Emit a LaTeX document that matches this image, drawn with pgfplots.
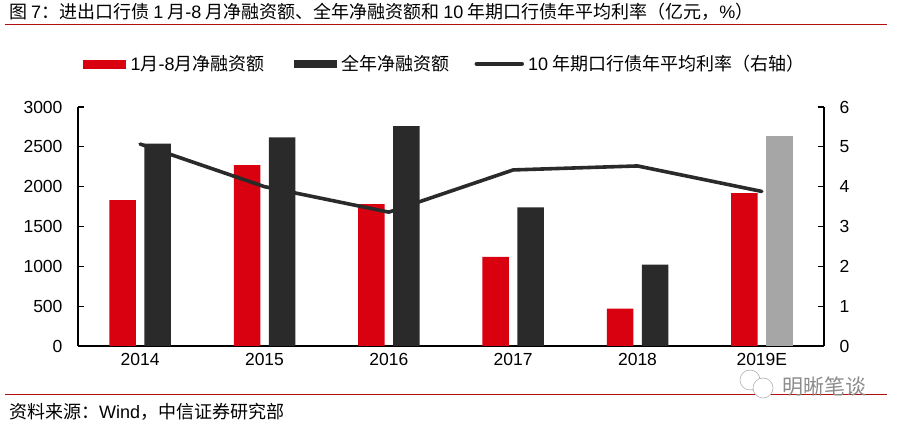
\documentclass[border=0pt]{standalone}
\usepackage{fontspec}
\setmainfont{Liberation Sans}
\newfontfamily\cjk{Noto Sans CJK SC}
\usepackage{pgfplots}
\pgfplotsset{compat=1.18}
\definecolor{cred}{HTML}{D9000F}
\definecolor{cdark}{HTML}{2A2A2A}
\definecolor{cgray}{HTML}{A6A6A6}
\definecolor{crule}{HTML}{B01010}
\pgfplotstableread{
x red dark
0 1830 2540
1 2270 2620
2 1780 2760
3 1120 1740
4 470 1020
5 1920 nan
}\bars
\pgfplotstableread{
x gray
5 2640
}\est
\pgfplotstableread{
x rate
0 5.07
1 4.00
2 3.36
3 4.42
4 4.52
5 3.88
}\rate
\pgfplotsset{base/.style={
  scale only axis, width=746pt, height=239pt,
  at={(78pt,79pt)}, anchor=south west,
  xmin=-0.5, xmax=5.5,
  tick label style={font=\fontsize{17.5}{20}\selectfont, /pgf/number format/assume math mode=true},
  axis line style={line width=1.5pt,black},
  tick style={line width=1.2pt,black},
  major tick length=6pt,
}}
\begin{document}
\begin{tikzpicture}[x=1pt,y=1pt]
\path (0,0) rectangle (897,425);
\node[anchor=west,inner sep=0pt,font=\fontsize{18}{20}\selectfont] at (9,413) {\cjk 图 {\rmfamily 7}：进出口行债 {\rmfamily 1} 月{\rmfamily -8} 月净融资额、全年净融资额和 {\rmfamily 10} 年期口行债年平均利率（亿元，{\rmfamily \%}）};
\draw[crule,line width=1pt] (5,400) -- (887,400);
\draw[crule,line width=1pt] (5,30) -- (887,30);
\node[anchor=west,inner sep=0pt,font=\fontsize{18}{20}\selectfont] at (9,13) {\cjk 资料来源：{\rmfamily Wind}，中信证券研究部};
\begin{axis}[base,
  axis y line*=left, axis x line*=bottom,
  ymin=0, ymax=3000, ytick={0,500,...,3000},
  xtick={0,1,2,3,4,5}, xticklabels={2014,2015,2016,2017,2018,2019E},
  x tick style={draw=none},
  xticklabel shift=4pt,
  yticklabel shift=12pt,
  yticklabel style={/pgf/number format/.cd,fixed,set thousands separator={}},
  ytick align=inside,
]
\addplot[ybar,bar width=26.5pt,bar shift=-17.5pt,fill=cred,draw=none] table[x=x,y=red]{\bars};
\addplot[ybar,bar width=26.5pt,bar shift=17.5pt,fill=cdark,draw=none] table[x=x,y=dark]{\bars};
\addplot[ybar,bar width=26.5pt,bar shift=17.5pt,fill=cgray,draw=none] table[x=x,y=gray]{\est};
\end{axis}
\begin{axis}[base,
  axis y line*=right, axis x line=none,
  ymin=0, ymax=6, ytick={0,1,...,6},
  ytick align=inside,
  yticklabel shift=12pt,
  legend style={at={(0.0067,1.18)},anchor=west,draw=none,fill=none,
    legend columns=3,inner sep=0pt,
    font=\fontsize{18}{20}\selectfont},
  legend cell align=left,
]
\addlegendimage{legend image code/.code={\fill[cred] (0pt,-4pt) rectangle (42pt,4pt);}}
\addlegendentry{\cjk \rule{3pt}{0pt}{\rmfamily 1}月{\rmfamily -8}月净融资额\rule{27.5pt}{0pt}}
\addlegendimage{legend image code/.code={\fill[cdark] (0pt,-3.5pt) rectangle (42pt,3.5pt);}}
\addlegendentry{\cjk \rule{3pt}{0pt}全年净融资额\rule{23pt}{0pt}}
\addlegendimage{legend image code/.code={\draw[cdark,line width=4.5pt,line cap=round] (0pt,0pt) -- (45pt,0pt);}}
\addlegendentry{\cjk \rule{2pt}{0pt}{\rmfamily 10} 年期口行债年平均利率（右轴）}
\addplot[cdark,line width=3.6pt,line join=round,line cap=round] table[x=x,y=rate]{\rate};
\end{axis}
\node[anchor=west,inner sep=0pt,font=\fontsize{21}{24}\selectfont,text=black!45] at (782,38) {\cjk 明晰笔谈};
\draw[black!30,line width=0.6pt,fill=white] (750,45) circle (10);
\draw[black!30,line width=0.6pt,fill=white] (763,37) circle (10);
\end{tikzpicture}
\end{document}
